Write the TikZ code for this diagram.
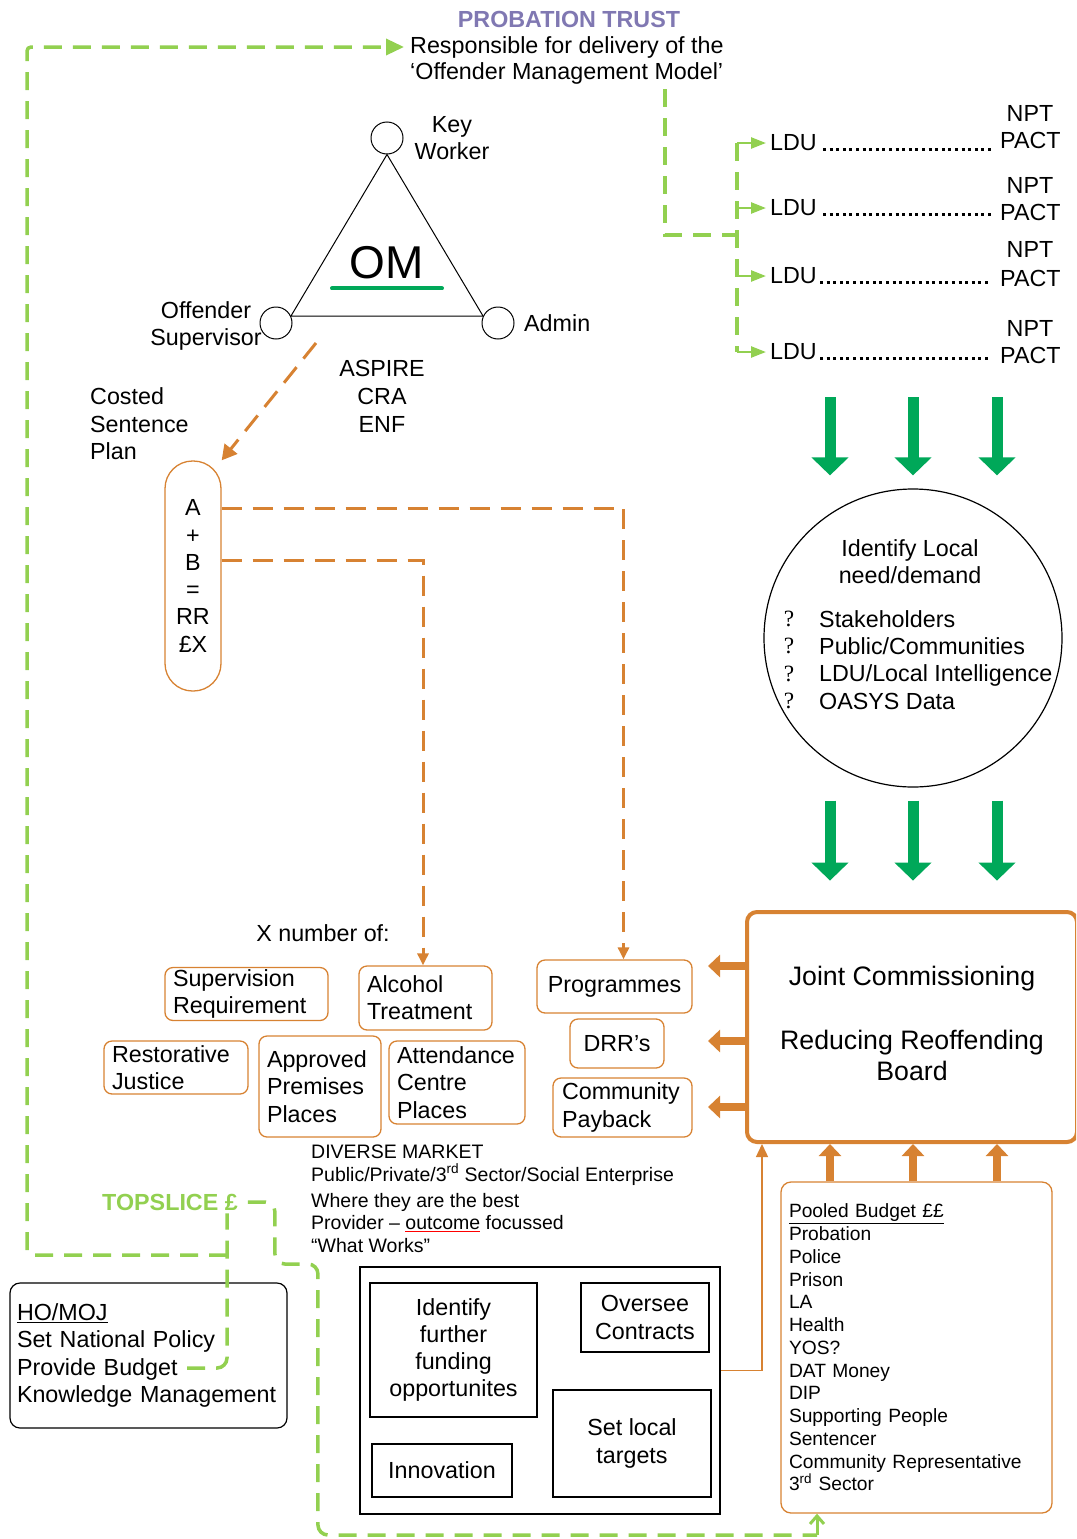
\documentclass[tikz,border=0pt]{standalone}
\usepackage{fontspec}
\setmainfont{Liberation Sans}
\newfontfamily\qmarkfont{Liberation Serif}
\usetikzlibrary{arrows.meta,calc}
\definecolor{trustpurple}{RGB}{128,120,178}
\definecolor{lgreen}{RGB}{146,208,80}
\definecolor{dgreen}{RGB}{0,168,89}
\definecolor{orng}{RGB}{215,130,50}
\newcommand{\redul}[1]{{\color{red}$\underline{\hbox{\color{black}#1}}$}}

\begin{document}
\begin{tikzpicture}[x=1pt,y=-1pt,
    txt/.style={font=\fontsize{23.3}{27.3}\selectfont,inner sep=0pt},
    boldtxt/.style={font=\fontsize{23.3}{27.3}\selectfont\bfseries,inner sep=0pt},
    dot/.style={circle,draw,line width=1pt,minimum size=32pt,inner sep=0pt},
    obox/.style={txt,draw=orng,line width=1.3pt,rounded corners=8pt,inner xsep=8pt,inner ysep=0pt,align=left},
    kbox/.style={txt,draw,line width=1.6pt,align=center},
    gdash/.style={lgreen,line width=3.5pt,dash pattern=on 18pt off 11pt},
    odash/.style={orng,line width=3pt,dash pattern=on 20pt off 11pt},
    garrow/.style={lgreen,line width=2.5pt,-{Triangle[width=11pt,length=15pt]}},
    bigdown/.style={dgreen,line width=11pt,-{Triangle[width=36pt,length=18pt]}},
    bigorng/.style={orng,line width=8pt,-{Triangle[width=22pt,length=12pt]}},
    ldots/.style={line width=3pt,dash pattern=on 3pt off 3.6pt}]
    \useasboundingbox (0,0) rectangle (1076,1539);
    \clip (0,0) rectangle (1076,1539);

    % probation trust
    \node[boldtxt,text=trustpurple] (trust) at (569,19) {PROBATION TRUST};
    \node[txt,anchor=west] (resp1) at (410,47) {Responsible for delivery of the};
    \node[txt,anchor=west] (resp2) at (410,73) {‘Offender Management Model’};

    % OM triangle
    \node[dot] (kw) at (387,138) {};
    \node[dot] (os) at (276,323) {};
    \node[dot] (ad) at (498,323) {};
    \draw[line width=1pt] (kw.south) -- (os.25) -- (ad.155) -- cycle;
    \node[txt,align=center] (kwl) at (452,138) {Key\\Worker};
    \node[txt,align=center] (osl) at (206,326) {Offender\\Supervisor};
    \node[txt,anchor=west] (adl) at (524,323) {Admin};
    \node[font=\fontsize{46}{50}\selectfont,inner sep=0pt] (om) at (387,263) {OM};
    \draw[dgreen,line width=4pt,line cap=round] ([xshift=-55pt,yshift=-9pt]om.south) -- ([xshift=55pt,yshift=-9pt]om.south);
    \node[txt,align=center,font=\fontsize{23.3}{28}\selectfont] (aspire) at (382,396) {ASPIRE\\CRA\\ENF};
    \node[txt,align=left,font=\fontsize{23.3}{27.5}\selectfont,anchor=west] (costed) at (90,424) {Costed\\Sentence\\Plan};

    % costed sentence plan
    \node[txt,draw=orng,line width=1.3pt,rounded corners=27.5pt,minimum width=56pt,minimum height=230pt,align=center] (pill) at (193,576) {A\\+\\B\\=\\RR\\£X};
    \coordinate (csp) at (316,343);
    \draw[odash,-{Triangle[width=16pt,length=15pt]}] (csp) -- (pill.north east);

    % requirements
    \node[txt] (xnum) at (323,933) {X number of:};
    \node[obox,minimum height=53pt,text width=147pt] (sup) at (246.5,994) {Supervision\\Requirement};
    \node[obox,minimum height=64pt,text width=117pt] (alc) at (425.5,998) {Alcohol\\Treatment};
    \node[obox,minimum height=53pt,text width=139pt,align=center] (prog) at (614.5,986.5) {Programmes};
    \node[obox,minimum height=49pt,text width=78pt,align=center] (drr) at (617,1043.5) {DRR’s};
    \node[obox,minimum height=59pt,text width=121pt,inner xsep=9pt] (cpb) at (622.5,1107.5) {Community\\Payback};
    \node[obox,minimum height=53pt,text width=128pt] (rj) at (176,1067.5) {Restorative\\Justice};
    \node[obox,minimum height=101pt,text width=106pt] (ap) at (320,1086.5) {Approved\\Premises\\Places};
    \node[obox,minimum height=83pt,text width=120pt] (ac) at (457,1082.5) {Attendance\\Centre\\Places};
    \draw[odash,-{Triangle[width=11pt,length=12pt]}] ($(pill.east)+(0,-68)$) -| ($(prog.north)+(9,0)$);
    \draw[odash,-{Triangle[width=11pt,length=12pt]}] ($(pill.east)+(0,-16)$) -| ($(alc.north)+(-2.5,0)$);

    % LDUs
    \node[txt,anchor=west] (ldu1) at (770,143) {LDU};
    \node[txt,anchor=west] (ldu2) at (770,208) {LDU};
    \node[txt,anchor=west] (ldu3) at (770,276) {LDU};
    \node[txt,anchor=west] (ldu4) at (770,352) {LDU};
    \node[txt,anchor=west] (pact1) at (1000,140) {PACT};
    \node[txt,anchor=west] (pact2) at (1000,212) {PACT};
    \node[txt,anchor=west] (pact3) at (1000,278) {PACT};
    \node[txt,anchor=west] (pact4) at (1000,355) {PACT};
    \node[txt] (npt1) at (1030,113) {NPT};
    \node[txt] (npt2) at (1030,185) {NPT};
    \node[txt] (npt3) at (1030,249) {NPT};
    \node[txt] (npt4) at (1030,328) {NPT};
    \draw[ldots] ($(ldu1.base east)+(6,-1.5)$) -- ($(ldu1.base east -| pact1.west)+(-9,-1.5)$);
    \draw[ldots] ($(ldu2.base east)+(6,-1.5)$) -- ($(ldu2.base east -| pact2.west)+(-9,-1.5)$);
    \draw[ldots] ($(ldu3.base east)+(3,-1.5)$) -- ($(ldu3.base east -| pact3.west)+(-12,-1.5)$);
    \draw[ldots] ($(ldu4.base east)+(3,-1.5)$) -- ($(ldu4.base east -| pact4.west)+(-12,-1.5)$);
    \coordinate (omx) at (665,235);
    \coordinate (bus) at (737,235);
    \draw[gdash] ($(omx |- resp2.south)+(0,5)$) -- (omx) -- (bus);
    \draw[gdash] (bus |- ldu1.west) -- (bus |- ldu4.west);
    \draw[garrow] (bus |- ldu1.west) -- ([xshift=-4pt]ldu1.west);
    \draw[garrow] (bus |- ldu2.west) -- ([xshift=-4pt]ldu2.west);
    \draw[garrow] (bus |- ldu3.west) -- ([xshift=-4pt]ldu3.west);
    \draw[garrow] (bus |- ldu4.west) -- ([xshift=-4pt]ldu4.west);

    % local need
    \node[circle,draw,line width=1.2pt,minimum size=298pt,inner sep=0pt] (circ) at (913,638) {};
    \node[txt,align=center] (need) at (910,562) {Identify Local\\need/demand};
    \node[txt,align=left,anchor=west] (list) at (819,660) {Stakeholders\\Public/Communities\\LDU/Local Intelligence\\OASYS Data};
    \node[txt,align=center,font=\qmarkfont\fontsize{23.3}{27.3}\selectfont] (qm) at (789,660) {?\\?\\?\\?};
    \coordinate (c1) at (830,397);
    \coordinate (c2) at (913,397);
    \coordinate (c3) at (997,397);
    \draw[bigdown] (c1) -- ($(c1 |- circ.north)+(0,-13)$);
    \draw[bigdown] (c2) -- ($(c2 |- circ.north)+(0,-13)$);
    \draw[bigdown] (c3) -- ($(c3 |- circ.north)+(0,-13)$);
    \draw[bigdown] ($(c1 |- circ.south)+(0,13)$) -- ++(0,80);
    \draw[bigdown] ($(c2 |- circ.south)+(0,13)$) -- ++(0,80);
    \draw[bigdown] ($(c3 |- circ.south)+(0,13)$) -- ++(0,80);

    % joint commissioning
    \node[draw=orng,line width=4pt,rounded corners=10pt,minimum width=330pt,minimum height=230pt,inner sep=0pt,align=center,font=\fontsize{26.7}{31}\selectfont] (jc) at (912,1027) {Joint Commissioning\\[33pt]Reducing Reoffending\\Board\\[-23pt]};
    \draw[bigorng] ($(jc.west)+(0,-61)$) -- ++(-37,0);
    \draw[bigorng] ($(jc.west)+(0,14)$) -- ++(-37,0);
    \draw[bigorng] ($(jc.west)+(0,80)$) -- ++(-37,0);

    % pooled budget
    \node[font=\fontsize{19.2}{22.75}\selectfont,draw=orng,line width=1.3pt,rounded corners=10pt,minimum height=331pt,text width=255pt,inner xsep=8pt,inner ysep=0pt,align=left] (pool) at (916.5,1347.5) {\underline{Pooled Budget ££}\\Probation\\Police\\Prison\\LA\\Health\\YOS?\\DAT Money\\DIP\\Supporting People\\Sentencer\\Community Representative\\3\textsuperscript{rd} Sector};
    \draw[bigorng] (pool.north -| c1) -- (jc.south -| c1);
    \draw[bigorng] (pool.north -| c2) -- (jc.south -| c2);
    \draw[bigorng] (pool.north -| c3) -- (jc.south -| c3);

    % diverse market
    \node[font=\fontsize{19.5}{22.5}\selectfont,inner sep=0pt,align=left,anchor=west] (mkttxt) at (311,1199) {DIVERSE MARKET\\Public/Private/3\textsuperscript{rd} Sector/Social Enterprise\\[3.5pt]Where they are the best\\Provider – \redul{outcome} focussed\\“What Works”};
    \node[kbox,minimum width=360pt,minimum height=247pt] (mkt) at (540,1390.5) {};
    \node[kbox,minimum width=167pt,minimum height=134pt] (fund) at (453.5,1350) {Identify\\further\\funding\\opportunites};
    \node[kbox,minimum width=128pt,minimum height=69pt] (over) at (645,1317.5) {Oversee\\Contracts};
    \node[kbox,minimum width=140pt,minimum height=53pt] (innov) at (442,1470.5) {Innovation};
    \node[kbox,minimum width=158pt,minimum height=107pt] (targ) at (632,1443.5) {Set local\\targets};
    \draw[orng,line width=1.5pt,-{Triangle[width=12pt,length=13pt]}] ($(mkt.east)+(0,-20)$) -| ($(jc.south west)+(17,0)$);

    % national level
    \node[txt,draw,line width=1.2pt,rounded corners=10pt,minimum height=145pt,text width=263pt,inner xsep=7pt,inner ysep=0pt,align=left] (ho) at (148.5,1355.5) {\underline{HO/MOJ}\\Set National Policy\\Provide Budget\\Knowledge Management};
    \node[boldtxt,text=lgreen] (ts) at (170,1202) {TOPSLICE £};
    \coordinate (hobud) at (187,1368);
    \coordinate (tsx) at (227,1255);
    \coordinate (gl) at (27,1255);
    \coordinate (tsend) at (817,1535);
    \draw[gdash,rounded corners=10pt] (hobud) -| ($(tsx |- ts.south)+(0,3)$);
    \draw[gdash,rounded corners=4pt,-{Triangle[width=16pt,length=18pt]}] (tsx) -- (gl) |- ([xshift=-6pt]resp1.west);
    \draw[gdash,rounded corners=10pt] ([xshift=10pt]ts.east) -- ++(27,0) -- ++(0,62) -- ++(43,0) -- ++(0,271) -- (tsend);
    \draw[lgreen,line width=3pt,-{Straight Barb[width=14pt,length=8pt]}] (tsend) -- (tsend |- pool.south);
\end{tikzpicture}
\end{document}
